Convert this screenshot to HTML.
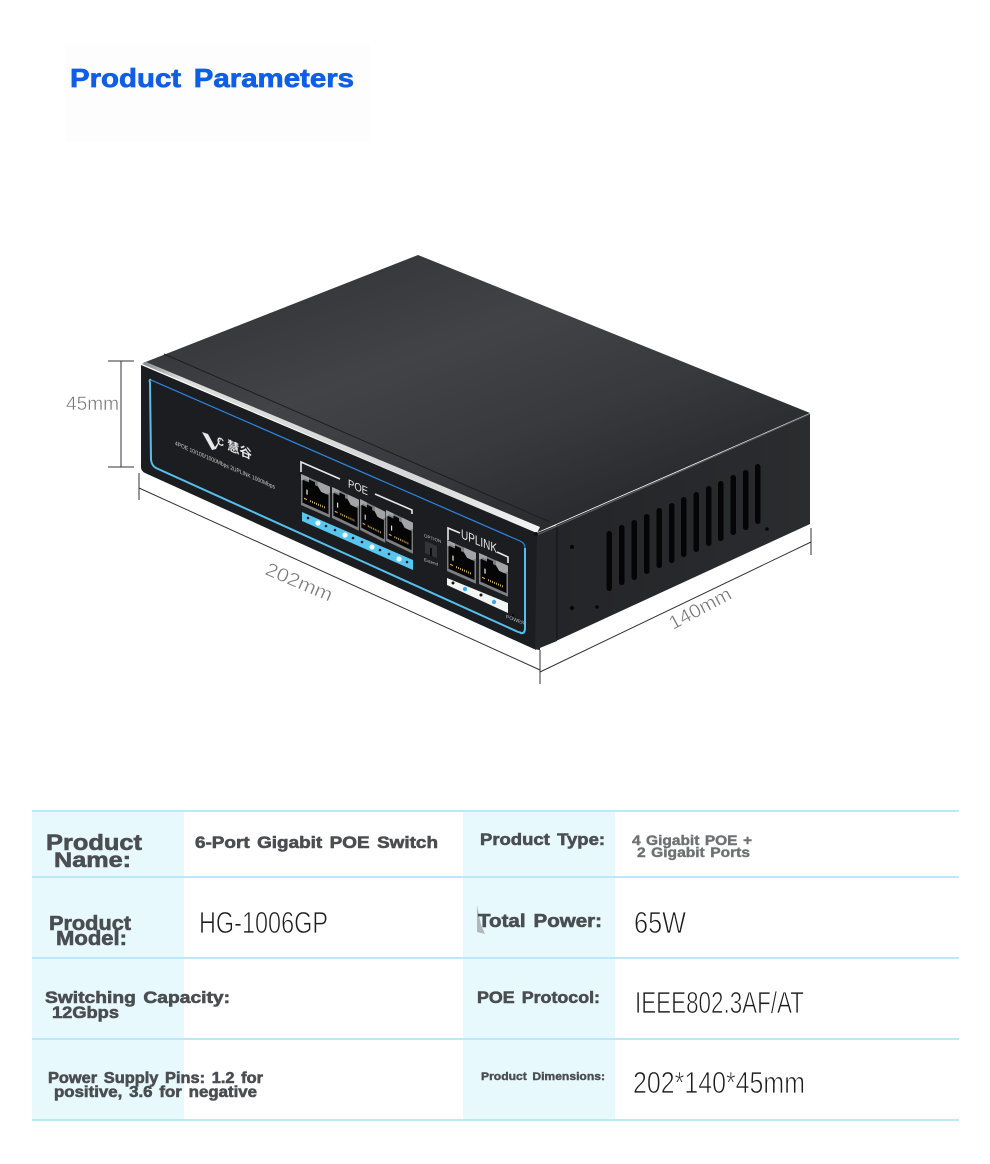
<!DOCTYPE html>
<html lang="en">
<head>
<meta charset="utf-8">
<title>Product Parameters</title>
<style>
html,body{margin:0;padding:0;background:#fff;width:990px;height:1164px;overflow:hidden}
svg{display:block}
text{font-family:"Liberation Sans","Noto Sans CJK SC",sans-serif}
.h{font-weight:700;fill:#4b4e51;stroke:#4b4e51;stroke-width:.6;word-spacing:2px}
.g{font-weight:700;fill:#6f7173;stroke:#6f7173;stroke-width:.4;word-spacing:1px}
.t{fill:#1c1c1c;stroke:#fff;stroke-width:.8;font-size:31px}
.d{fill:#777;stroke:#fff;stroke-width:.4;font-size:19px}
.w{fill:#e8e8e8}
</style>
</head>
<body>
<svg width="990" height="1164" viewBox="0 0 990 1164" xmlns="http://www.w3.org/2000/svg">
<defs>
<linearGradient id="top" x1="0.15" y1="0.1" x2="0.85" y2="0.9">
<stop offset="0" stop-color="#343538"/><stop offset=".35" stop-color="#424346"/><stop offset=".65" stop-color="#38393c"/><stop offset="1" stop-color="#252629"/>
</linearGradient>
<linearGradient id="side" x1="0" y1="0" x2="1" y2="0">
<stop offset="0" stop-color="#242528"/><stop offset="1" stop-color="#2b2c2f"/>
</linearGradient>
<linearGradient id="edge" x1="0" y1="0" x2="1" y2="0">
<stop offset="0" stop-color="#88898c"/><stop offset=".1" stop-color="#dcdddd"/><stop offset=".7" stop-color="#d6d7d8"/><stop offset="1" stop-color="#f4f4f4"/>
</linearGradient>
<g id="port">
<path d="M0 0H29V31H0Z" fill="#7d7f82"/>
<path d="M1.500 5H8V2H14V5H20V9H27.500V28H1.500Z" fill="#050506"/>
<path d="M17 0H29V6L25 9H20L17 5Z" fill="#a2a4a6"/>
<path d="M0 0H8V3H3L1.500 6H0Z" fill="#a2a4a6"/>
<path d="M9 23H25" stroke="#c9a850" stroke-width="2" stroke-dasharray="1 1"/>
<path d="M6 13V18" stroke="#ddd" stroke-width="1.300"/>
<path d="M3 23H6" stroke="#c9a850" stroke-width="1.300"/>
</g>
</defs>

<!-- title -->
<rect x="65" y="44" width="305" height="98" fill="#fdfdfd"/>
<text x="70" y="87" font-size="26" font-weight="700" fill="#0f5fe6" stroke="#0f5fe6" stroke-width=".7" word-spacing="4" textLength="284" lengthAdjust="spacingAndGlyphs">Product Parameters</text>

<!-- dimension lines -->
<g stroke="#333" stroke-width="1" fill="none">
<path d="M121 361V467M108 361H134M108 467H134"/>
<path d="M139 488L540 670M139 473V500M540 650V684"/>
<path d="M540 672L811 542M811 528V555"/>
</g>
<text class="d" x="66" y="410" textLength="53" lengthAdjust="spacingAndGlyphs">45mm</text>
<text class="d" transform="translate(264 574) rotate(23)" textLength="71" lengthAdjust="spacingAndGlyphs">202mm</text>
<text class="d" transform="translate(673 630) rotate(-28)" textLength="68" lengthAdjust="spacingAndGlyphs">140mm</text>

<!-- switch body -->
<path d="M143 363L418 255L810 413L538 532Z" fill="url(#top)"/>
<path d="M164 354L550 522" stroke="#1d1e20" stroke-width="1" fill="none"/>
<path d="M141 365L537 533L540 650L534 649L145 473Q141 471 141 467Z" fill="#1c1d20"/>
<path d="M537 533L557 525V641L535 650Z" fill="#25262a"/>
<path d="M556 525L810 414V524L556 641Z" fill="url(#side)"/>
<path d="M537 535L810 414" stroke="#5c5d60" stroke-width="1.200" fill="none"/>
<path d="M557 527V640" stroke="#101113" stroke-width=".8"/>
<path d="M142 364L146 362L540 527L537 533Z" fill="url(#edge)"/>
<circle cx="536" cy="534" r="2" fill="#111"/>

<!-- front band -->
<path d="M151 380L520 541Q525 543 525 548V630Q525 635 520 633" fill="none" stroke="#2d86e2" stroke-width="1.200"/>
<path d="M151 380Q149 379 150 383L151 460Q152 466 156 468L516 631Q520 633 521 632" fill="none" stroke="#55c0ee" stroke-width="2"/>
<path d="M525 548V628Q525 634 520 633" fill="none" stroke="#55c0ee" stroke-width="2"/>

<!-- logo and marking -->
<path d="M202 432L208 434L215 447L222 437L216 449L212 450Z" fill="#e8e8e8"/>
<text class="w" font-size="11" font-weight="700" transform="matrix(1 .42 0 1 217 444)" textLength="7" lengthAdjust="spacingAndGlyphs">C</text>
<text class="w" font-size="12.500" font-weight="700" transform="matrix(1 .42 0 1 227 449)">慧谷</text>
<text fill="#c8c8c8" font-size="6" transform="matrix(1 .44 0 1 175 445)" textLength="100" lengthAdjust="spacingAndGlyphs">4POE 10/100/1000Mbps 2UPLINK 1000Mbps</text>

<!-- POE group -->
<path d="M340 479L301 462V472M375 494L412 510V514" fill="none" stroke="#e8e8e8" stroke-width="1.600"/>
<text class="w" font-size="11.500" transform="matrix(1 .42 0 1 348 487)" textLength="20" lengthAdjust="spacingAndGlyphs">POE</text>
<use href="#port" transform="matrix(1 .44 0 1 301 474)"/>
<use href="#port" transform="matrix(.93 .44 0 1 332 487)"/>
<use href="#port" transform="matrix(.87 .44 0 1 360 499)"/>
<use href="#port" transform="matrix(.93 .44 0 1 386 510)"/>
<path d="M302 512L413 560V570L302 521Z" fill="#58c6ee"/>
<g fill="#15202a">
<circle cx="308" cy="518" r="1.300"/><circle cx="326" cy="526" r="1.300"/><circle cx="335" cy="530" r="1.300"/><circle cx="353" cy="538" r="1.300"/><circle cx="362" cy="542" r="1.300"/><circle cx="380" cy="550" r="1.300"/><circle cx="389" cy="554" r="1.300"/><circle cx="407" cy="562" r="1.300"/>
</g>
<g fill="#f2fbff">
<circle cx="318" cy="523" r="2.600"/><circle cx="345" cy="535" r="2.600"/><circle cx="372" cy="547" r="2.600"/><circle cx="399" cy="559" r="2.600"/>
</g>

<!-- option -->
<text fill="#bbb" font-size="4.500" transform="matrix(1 .35 0 1 424 537)">OPTION</text>
<path d="M425 541L437 546V558L425 553Z" fill="#333538"/>
<path d="M431 548V556" stroke="#0b0b0c" stroke-width="2"/>
<text fill="#bbb" font-size="4.500" transform="matrix(1 .35 0 1 424 561)">Extend</text>

<!-- uplink group -->
<path d="M448 540V528L460 533M497 552L508 557V563" fill="none" stroke="#e8e8e8" stroke-width="1.600"/>
<text class="w" font-size="13" transform="matrix(1 .42 0 1 461 538)" textLength="36" lengthAdjust="spacingAndGlyphs">UPLINK</text>
<use href="#port" transform="matrix(1 .44 0 1 447 540)"/>
<use href="#port" transform="matrix(1 .44 0 1 479 553)"/>
<path d="M447 578L508 603V613L447 585Z" fill="#f4f4f4"/>
<circle cx="453" cy="583" r="1.500" fill="#111"/><circle cx="481" cy="595" r="1.500" fill="#111"/>
<circle cx="465" cy="589" r="2.200" fill="#35aee8"/><circle cx="494" cy="602" r="2.200" fill="#35aee8"/>
<circle cx="513" cy="615" r="1" fill="#000"/>
<text fill="#bbb" font-size="5" transform="matrix(1 .38 0 1 506 618)">POWER</text>

<!-- side details -->
<g fill="#050506">
<rect x="606.500" y="531" width="5.500" height="60" rx="2.700"/>
<rect x="619" y="525" width="5.500" height="60" rx="2.700"/>
<rect x="631.500" y="520" width="5.500" height="60" rx="2.700"/>
<rect x="644" y="514" width="5.500" height="60" rx="2.700"/>
<rect x="656.500" y="508" width="5.500" height="60" rx="2.700"/>
<rect x="669" y="503" width="5.500" height="60" rx="2.700"/>
<rect x="681" y="497" width="5.500" height="60" rx="2.700"/>
<rect x="693.500" y="492" width="5.500" height="60" rx="2.700"/>
<rect x="706" y="486" width="5.500" height="60" rx="2.700"/>
<rect x="718" y="481" width="5.500" height="60" rx="2.700"/>
<rect x="730.500" y="475" width="5.500" height="60" rx="2.700"/>
<rect x="743" y="470" width="5.500" height="60" rx="2.700"/>
<rect x="755" y="464" width="5.500" height="60" rx="2.700"/>
<circle cx="572" cy="547" r="2"/><circle cx="572" cy="608" r="2"/><circle cx="597" cy="607" r="1.800"/><circle cx="767" cy="529" r="1.800"/>
</g>

<!-- table -->
<rect x="32" y="811" width="152" height="309" fill="#e7f9fd"/>
<rect x="463" y="811" width="152" height="309" fill="#e7f9fd"/>
<g stroke="#bfe8f7" stroke-width="2">
<path d="M32 811H959M32 877H959M32 958H959M32 1039H959M32 1120H959"/>
</g>

<text class="h" x="46" y="850" font-size="22" textLength="96" lengthAdjust="spacingAndGlyphs">Product</text>
<text class="h" x="54" y="867" font-size="21" textLength="77" lengthAdjust="spacingAndGlyphs">Name:</text>
<text class="h" x="195" y="848" font-size="17" textLength="243" lengthAdjust="spacingAndGlyphs">6-Port Gigabit POE Switch</text>

<text class="h" x="49" y="930" font-size="20" textLength="82" lengthAdjust="spacingAndGlyphs">Product</text>
<text class="h" x="56" y="945" font-size="20" textLength="71" lengthAdjust="spacingAndGlyphs">Model:</text>
<text class="t" x="199" y="933" textLength="129" lengthAdjust="spacingAndGlyphs">HG-1006GP</text>

<text class="h" x="45" y="1003" font-size="17" textLength="185" lengthAdjust="spacingAndGlyphs">Switching Capacity:</text>
<text class="h" x="52" y="1018" font-size="17" textLength="67" lengthAdjust="spacingAndGlyphs">12Gbps</text>

<text class="h" x="48" y="1083" font-size="15.500" textLength="215" lengthAdjust="spacingAndGlyphs">Power Supply Pins: 1.2 for</text>
<text class="h" x="54" y="1097" font-size="15.500" textLength="203" lengthAdjust="spacingAndGlyphs">positive, 3.6 for negative</text>

<text class="h" x="480" y="845" font-size="17" textLength="125" lengthAdjust="spacingAndGlyphs">Product Type:</text>
<text class="g" x="632" y="845" font-size="13.500" textLength="120" lengthAdjust="spacingAndGlyphs">4 Gigabit POE +</text>
<text class="g" x="637" y="857" font-size="13.500" textLength="113" lengthAdjust="spacingAndGlyphs">2 Gigabit Ports</text>

<path d="M477 905L481 925L485 934L477 932Z" fill="#9a9c9e" opacity=".7"/>
<text class="h" x="478" y="927" font-size="18" textLength="124" lengthAdjust="spacingAndGlyphs">Total Power:</text>
<text class="t" x="634" y="933" textLength="52" lengthAdjust="spacingAndGlyphs">65W</text>

<text class="h" x="477" y="1003" font-size="17" textLength="123" lengthAdjust="spacingAndGlyphs">POE Protocol:</text>
<text class="t" x="635" y="1013" textLength="169" lengthAdjust="spacingAndGlyphs">IEEE802.3AF/AT</text>

<text class="h" style="stroke-width:.4" x="481" y="1080" font-size="11" textLength="124" lengthAdjust="spacingAndGlyphs">Product Dimensions:</text>
<text class="t" x="633" y="1093" textLength="172" lengthAdjust="spacingAndGlyphs">202*140*45mm</text>
</svg>
</body>
</html>
